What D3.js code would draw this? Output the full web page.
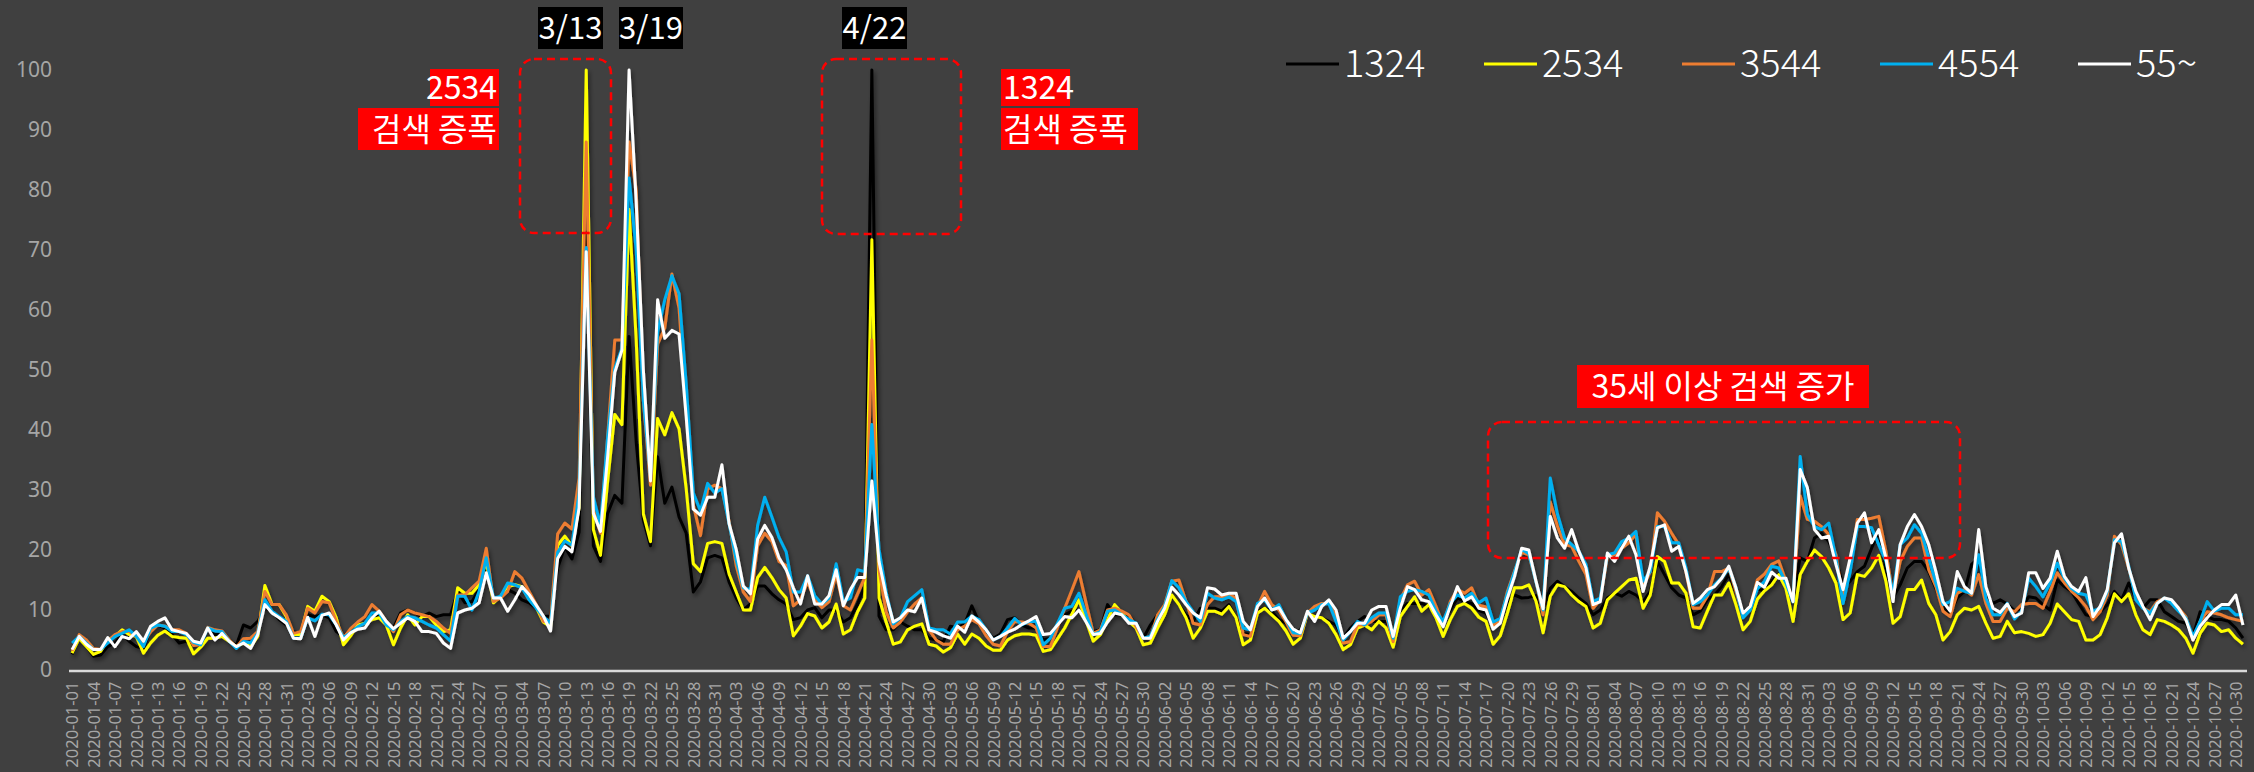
<!DOCTYPE html>
<html>
<head>
<meta charset="utf-8">
<script src="https://cdn.jsdelivr.net/npm/d3@7"></script>
<style>
  html, body { margin: 0; padding: 0; background: #404040; }
  svg { display: block; }
  text { font-family: "Noto Sans CJK KR", "Noto Sans", sans-serif; }
</style>
</head>
<body>
<svg id="chart" width="2254" height="772"></svg>

<script>
// daily categories, 2020-01-01 .. 2020-10-31
var startDate = new Date(2020, 0, 1);
var endDate = new Date(2020, 10, 1);
var days = d3.timeDay.range(startDate, endDate);

var seriesNames = ["1324", "2534", "3544", "4554", "55~"];
var seriesColors = ["#000000", "#ffff00", "#ed7d31", "#00b0f0", "#ffffff"];
var yTicks = [0, 10, 20, 30, 40, 50, 60, 70, 80, 90, 100];

var s1324 = [2.6,5.6,3.9,2.3,2.5,3.9,4.5,5.9,4.8,3.9,
3.6,6.7,7.5,7.0,5.9,4.5,4.8,4.2,4.2,7.0,
5.9,5.9,4.8,4.1,7.5,7.0,8.1,10.3,9.8,8.4,
7.5,6.4,6.1,9.2,8.9,9.2,8.7,6.4,5.6,6.8,
7.5,7.8,9.2,8.9,7.8,7.0,9.5,10.0,9.5,8.9,
9.5,8.9,9.2,9.2,13.1,11.2,11.4,13.4,16.7,12.0,
12.3,13.4,12.8,11.7,11.2,10.3,8.9,9.0,17.0,20.5,
18.5,23.0,73.0,20.7,18.1,26.1,29.1,27.8,55.6,38.0,
25.0,20.7,35.5,27.8,30.5,25.5,22.8,13.0,14.7,18.7,
19.1,18.7,14.7,12.0,10.0,11.0,14.0,14.0,12.7,11.7,
11.0,8.4,8.7,10.0,10.4,8.7,10.0,10.0,8.0,8.7,
11.0,14.0,100,9.0,6.7,6.7,8.0,7.3,6.7,6.7,
5.3,5.0,4.7,7.3,7.0,7.7,10.7,8.0,6.3,5.3,
6.0,8.4,8.7,7.5,7.0,7.0,5.0,5.3,7.2,9.2,
9.8,10.0,8.2,6.4,6.7,10.9,9.2,9.2,9.2,7.5,
5.3,7.5,9.2,10.9,12.5,10.9,9.2,8.1,10.3,10.3,
10.3,9.8,10.9,8.7,6.1,5.9,9.8,10.3,9.8,8.4,
7.8,6.5,6.6,9.5,8.9,8.7,8.1,7.5,5.3,7.0,
8.1,8.9,8.1,8.1,8.1,6.4,10.0,11.1,11.1,11.1,
10.6,9.5,8.1,10.0,12.0,11.4,11.1,9.9,9.5,7.1,
8.0,11.4,12.5,12.0,12.1,12.4,10.3,13.6,14.8,13.9,
13.1,12.0,11.1,9.2,10.0,12.0,12.8,12.3,13.1,12.5,
11.4,13.1,18.1,15.9,13.7,12.5,12.0,9.2,9.8,11.7,
12.5,13.9,15.9,13.1,9.8,10.3,13.5,13.2,14.8,16.0,
14.8,12.0,18.7,18.1,22.0,22.8,21.4,18.7,13.9,14.8,
16.4,17.3,20.3,23.1,17.0,12.0,14.2,17.0,18.1,18.1,
16.4,13.6,10.6,9.5,12.0,13.1,17.6,18.7,12.5,11.1,
11.7,11.0,9.9,10.3,12.2,12.0,10.9,10.0,15.0,13.9,
13.1,11.1,9.2,8.9,9.7,10.9,13.1,11.7,14.5,12.0,
10.3,11.7,11.7,9.7,8.9,8.1,7.8,5.6,9.7,8.9,
8.4,8.4,8.1,7.0,5.3];

var s2534 = [2.8,5.3,3.9,2.6,3.1,5.0,5.6,6.7,5.9,5.6,
2.8,4.5,5.8,6.5,5.6,5.4,5.3,2.7,3.8,5.3,
5.3,5.6,4.8,3.9,4.5,3.9,5.6,14.1,10.9,10.9,
8.9,5.9,5.9,10.6,9.8,12.3,11.4,8.7,4.2,5.7,
7.5,7.8,8.4,8.7,7.5,4.2,7.0,9.2,7.5,8.9,
8.9,7.5,6.4,6.7,13.7,12.8,12.8,14.2,18.1,11.2,
12.3,13.9,14.2,13.9,11.8,10.5,8.0,7.2,20.8,22.3,
20.7,27.0,100,23.4,19.1,31.5,42.6,40.9,76.8,55.0,
26.0,21.4,41.9,39.2,42.9,40.2,30.2,17.7,16.4,21.1,
21.4,21.1,16.0,13.0,10.0,10.0,15.4,17.1,15.4,13.4,
12.0,5.7,7.3,9.4,9.0,7.0,8.0,11.0,6.0,6.7,
9.7,12.0,71.7,12.0,8.0,4.3,4.7,6.7,7.3,7.7,
4.3,4.0,3.0,3.7,6.0,4.3,6.0,5.3,4.0,3.3,
3.3,5.0,5.7,6.0,6.0,5.8,3.1,3.4,5.2,7.0,
9.3,11.7,8.2,4.8,5.9,8.4,10.9,9.5,8.1,7.0,
4.2,4.5,7.0,9.2,12.5,10.9,8.7,5.3,7.0,9.8,
9.8,9.3,10.6,8.7,4.2,5.0,9.5,10.3,9.2,8.1,
6.5,4.3,5.3,9.5,8.9,8.7,7.8,5.9,3.4,4.2,
7.0,7.5,6.7,8.1,7.0,3.8,8.9,10.6,12.2,9.8,
10.9,8.7,5.6,8.4,10.6,11.1,10.3,8.8,8.1,4.3,
5.7,9.5,13.7,13.7,14.2,11.5,6.2,12.3,14.2,13.9,
12.5,11.4,10.6,7.0,7.8,11.7,12.8,13.9,15.0,15.3,
10.3,12.5,18.9,18.1,14.5,14.5,12.8,7.2,7.0,9.8,
12.5,12.5,14.5,10.9,6.7,8.1,11.8,13.2,14.2,15.9,
13.6,8.1,15.9,18.1,20.0,18.9,17.0,14.5,8.4,9.5,
15.9,15.6,17.0,19.1,14.8,7.8,8.9,13.4,13.4,15.0,
11.1,9.2,5.0,6.4,9.2,10.3,10.0,10.6,7.8,5.3,
5.6,8.1,6.2,6.4,6.1,5.6,5.9,7.8,11.0,9.7,
8.4,8.1,5.0,5.0,5.9,8.7,12.7,11.4,12.7,9.2,
6.7,5.9,8.4,8.1,7.5,6.7,5.3,2.8,6.1,7.8,
7.5,6.4,6.7,5.3,4.3];

var s3544 = [3.2,5.9,5.0,3.6,3.4,4.8,5.9,6.4,6.4,5.6,
4.5,6.4,7.5,7.3,6.7,6.7,6.1,4.1,4.2,7.1,
6.7,6.5,5.0,3.8,5.2,5.3,6.4,13.1,10.9,10.9,
9.2,6.1,6.4,10.3,9.5,11.4,11.2,8.1,5.4,6.9,
8.0,8.9,10.9,9.8,8.1,6.4,9.2,10.0,9.5,9.2,
8.9,8.1,7.0,6.1,12.5,12.5,13.7,14.8,20.3,11.4,
12.0,13.1,16.4,15.3,13.1,10.9,8.1,8.2,22.7,24.5,
23.5,32.0,88.0,26.8,22.8,38.9,55.0,55.0,88.0,80.0,
45.0,30.8,54.3,57.0,66.0,60.3,42.9,27.5,22.4,30.2,
30.8,30.2,24.8,17.4,13.0,11.4,20.7,22.8,21.4,18.1,
17.4,10.7,11.7,14.7,11.7,10.4,11.4,16.0,10.7,10.0,
12.7,15.4,55.0,16.7,9.7,7.0,8.0,9.7,11.0,12.0,
6.7,5.0,4.3,4.3,6.7,7.3,8.4,7.7,5.7,4.3,
4.0,6.4,8.1,8.0,7.8,7.0,3.9,3.9,7.1,10.3,
13.3,16.4,11.2,6.1,6.7,10.0,10.3,9.8,9.2,7.2,
5.3,5.3,9.2,10.9,14.8,15.0,11.4,7.8,7.5,10.9,
12.2,12.2,12.5,12.0,5.9,5.6,10.6,13.1,10.9,10.0,
8.0,5.8,5.7,9.5,10.6,11.1,11.1,8.9,4.5,4.7,
7.5,7.5,8.1,9.2,9.2,4.7,11.7,14.2,14.8,12.5,
13.4,10.6,7.5,11.4,13.4,12.8,13.7,10.8,10.5,7.4,
8.1,13.1,16.5,19.6,19.2,14.8,9.2,28.0,24.0,20.9,
20.6,18.1,15.9,10.3,11.7,18.9,19.2,20.3,21.2,22.6,
13.9,16.4,26.2,24.8,22.8,20.9,16.4,10.3,10.3,12.3,
16.4,16.4,17.0,13.1,9.2,10.6,15.0,16.0,17.6,18.2,
14.8,11.7,29.0,25.1,24.8,23.9,22.6,19.2,12.0,17.0,
25.1,25.1,25.3,25.6,19.8,12.3,18.1,20.6,22.0,22.0,
16.7,13.9,9.8,8.9,12.8,13.4,12.5,15.9,11.1,8.1,
8.1,10.3,9.7,10.9,11.1,11.1,10.3,13.1,16.2,14.5,
13.1,12.0,10.6,8.4,9.7,12.5,22.3,20.9,17.0,12.2,
10.3,9.7,11.4,12.0,11.4,10.3,8.9,5.0,8.1,9.7,
9.5,9.2,8.7,8.4,8.1];

var s4554 = [4.5,5.6,4.5,3.4,3.4,4.5,5.6,6.1,6.7,5.6,
3.9,7.0,7.5,7.3,6.4,6.4,5.9,4.6,4.2,7.0,
6.5,6.4,4.8,3.6,4.8,4.5,6.1,11.7,9.8,8.9,
8.1,5.3,5.3,8.7,8.2,9.3,9.2,7.5,5.4,6.2,
7.2,7.8,9.5,9.5,7.5,6.7,8.1,8.9,8.7,8.1,
7.5,7.0,5.9,4.8,12.3,12.3,10.0,13.1,18.7,12.0,
12.3,14.5,14.2,13.7,11.7,10.3,8.9,7.8,19.6,21.5,
20.8,29.5,70.4,28.8,24.1,38.9,50.3,53.6,82.0,70.0,
45.0,32.2,56.3,61.7,65.7,62.7,47.6,29.5,26.5,31.1,
29.5,30.2,24.4,18.4,13.7,13.4,24.1,28.8,25.5,22.1,
19.7,13.0,13.0,15.7,12.4,11.0,12.0,17.7,11.4,12.0,
16.7,16.4,40.9,20.1,13.0,7.7,8.7,11.4,12.4,13.4,
7.0,6.7,6.7,6.0,8.0,8.0,9.0,8.4,6.7,5.0,
5.6,7.0,8.6,7.5,8.1,8.1,4.2,5.3,7.8,10.3,
10.6,12.8,9.3,5.9,6.4,9.8,10.0,9.2,8.4,7.8,
5.3,5.6,8.4,10.6,14.9,13.7,11.4,9.7,8.1,12.8,
12.0,11.7,12.2,11.4,7.0,6.7,11.1,11.7,10.0,10.9,
8.4,6.2,6.1,9.5,10.0,10.9,11.1,8.1,5.0,6.4,
8.1,7.5,8.7,9.5,9.5,5.3,12.2,13.1,13.4,13.1,
12.5,9.8,8.1,11.1,12.5,12.0,12.8,11.2,12.0,8.0,
8.6,12.8,16.4,20.1,19.4,14.7,10.0,32.0,26.0,22.0,
20.9,19.8,17.6,11.4,12.0,19.2,19.5,21.4,22.0,23.1,
14.8,16.4,23.9,23.9,21.2,21.2,17.0,10.9,11.4,12.5,
14.2,15.3,17.0,13.7,8.7,10.0,13.5,14.8,17.3,17.0,
14.5,11.4,35.6,25.9,23.9,23.4,24.5,18.7,11.1,16.4,
23.9,23.9,23.7,20.9,18.1,12.8,20.9,22.0,24.2,22.8,
18.7,14.5,10.9,11.4,13.6,13.1,12.8,19.2,12.0,9.2,
9.2,11.1,8.5,9.8,15.3,13.9,12.2,14.5,17.8,15.3,
13.6,12.8,12.5,9.8,10.3,13.1,21.7,21.4,17.3,11.7,
10.3,9.5,11.1,12.0,11.1,9.8,8.7,5.6,8.1,11.4,
9.8,10.3,10.3,9.2,9.2];

var s55 = [3.4,5.6,4.3,3.4,3.4,5.4,3.9,5.6,5.2,6.4,
4.8,7.3,8.1,8.7,6.7,6.4,6.1,4.8,4.5,7.0,
5.0,6.1,4.8,3.9,4.5,3.6,5.9,10.9,9.5,8.7,
7.8,5.3,5.2,8.8,5.6,9.1,9.5,7.5,5.0,6.2,
6.8,7.0,8.7,9.8,8.1,6.9,7.8,8.7,8.1,6.4,
6.4,6.1,4.5,3.6,9.5,10.0,10.3,11.2,16.2,12.0,
12.0,9.8,11.7,13.9,12.6,10.8,9.0,6.5,18.6,20.6,
19.7,27.0,69.7,26.1,23.1,35.5,49.6,53.3,100,78.0,
50.0,31.5,61.7,55.3,56.6,56.0,42.2,26.8,25.8,28.8,
28.8,34.2,24.4,20.1,14.0,12.7,21.8,24.1,22.1,18.7,
16.7,13.7,11.0,15.7,11.0,11.0,12.4,16.7,10.7,13.4,
15.4,15.4,31.5,18.1,12.4,8.0,8.7,10.0,9.7,12.0,
6.7,6.3,5.7,5.3,7.3,6.3,9.0,8.0,6.7,5.0,
5.6,6.3,6.8,7.6,8.2,8.9,5.9,6.1,7.5,8.9,
8.7,10.0,8.0,5.9,6.1,8.0,9.5,9.2,7.8,7.8,
5.3,5.3,8.1,10.3,13.8,12.5,10.9,9.5,8.7,13.7,
13.5,12.5,12.8,12.8,8.1,6.7,10.6,12.0,10.0,10.4,
8.4,6.8,6.2,9.8,8.1,10.6,11.7,10.0,5.3,6.4,
7.8,7.8,10.0,10.6,10.6,5.6,10.3,13.9,13.4,11.7,
11.4,9.2,7.2,10.6,13.9,11.5,12.2,10.3,10.0,6.8,
7.8,12.0,15.6,20.3,20.0,14.8,10.2,25.6,22.0,20.3,
23.4,19.8,17.0,10.9,11.4,19.5,18.1,20.3,22.3,19.2,
13.1,17.3,23.7,24.2,19.8,20.6,16.4,11.1,12.0,13.4,
13.9,15.3,17.3,13.7,9.5,10.6,14.6,13.8,16.3,15.3,
15.3,11.4,33.4,30.4,23.4,22.0,22.3,17.6,13.4,18.7,
24.5,26.2,21.2,23.4,18.7,11.4,20.9,23.9,25.9,23.9,
20.9,16.4,11.4,9.8,16.4,13.9,12.8,23.4,13.9,10.3,
9.6,11.0,8.9,9.5,16.2,16.2,13.6,15.3,19.8,15.6,
13.9,13.1,15.4,8.9,10.6,13.4,21.2,22.7,17.0,13.1,
10.6,8.4,11.1,12.0,11.7,10.3,8.4,5.0,7.3,8.7,
10.0,10.9,10.9,12.5,7.5];

var allSeries = [s1324, s2534, s3544, s4554, s55];

var svg = d3.select("#chart");

var x = d3.scalePoint()
    .domain(d3.range(days.length))
    .range([68.5, 2246.5])
    .padding(0.5);

var y = d3.scaleLinear()
    .domain([0, 100])
    .range([670, 70]);

// soft shadow under the lines
var defs = svg.append("defs");
defs.append("filter")
    .attr("id", "shadow")
    .attr("x", "-5%").attr("y", "-5%")
    .attr("width", "110%").attr("height", "110%")
  .append("feDropShadow")
    .attr("dx", 2).attr("dy", 3)
    .attr("stdDeviation", 2)
    .attr("flood-color", "#000")
    .attr("flood-opacity", 0.45);

// y labels
var yAxis = d3.axisLeft(y).tickValues(yTicks).tickSize(0).tickPadding(0);
var gy = svg.append("g").attr("transform", "translate(52,0)").call(yAxis);
gy.select(".domain").remove();
gy.selectAll("text")
    .style("font-size", "21px")
    .style("font-family", "'Noto Sans', sans-serif")
    .attr("fill", "#a6a6a6");

// x axis, every third day
var fmt = d3.timeFormat("%Y-%m-%d");
var xAxis = d3.axisBottom(x)
    .tickValues(d3.range(0, days.length - 1, 3))
    .tickFormat(function (i) { return fmt(days[i]); })
    .tickSize(0)
    .tickSizeOuter(0);
var gx = svg.append("g").attr("transform", "translate(0,670.5)").call(xAxis);
gx.select(".domain").attr("stroke", "#d9d9d9").attr("stroke-width", 2.5);
gx.selectAll("text")
    .attr("transform", "rotate(-90)")
    .attr("x", -11)
    .attr("y", 0)
    .attr("dy", "0.35em")
    .style("text-anchor", "end")
    .style("font-size", "16.5px")
    .style("font-family", "'Noto Sans', sans-serif")
    .attr("fill", "#a6a6a6");

// lines
var line = d3.line()
    .x(function (d, i) { return x(i); })
    .y(function (d) { return y(d); });

svg.append("g")
    .attr("filter", "url(#shadow)")
  .selectAll("path.series")
    .data(allSeries)
  .enter()
    .append("path")
    .attr("class", "series")
    .attr("fill", "none")
    .attr("stroke", function (d, i) { return seriesColors[i]; })
    .attr("stroke-width", 3)
    .attr("stroke-linejoin", "round")
    .attr("d", line);

// legend
var legend = svg.append("g").selectAll("g")
    .data(seriesNames)
  .enter()
    .append("g")
    .attr("transform", function (d, i) { return "translate(" + (1286 + i * 198) + ",0)"; });
legend.append("line")
    .attr("x1", 0).attr("x2", 53)
    .attr("y1", 64).attr("y2", 64)
    .attr("stroke", function (d, i) { return seriesColors[i]; })
    .attr("stroke-width", 3);
legend.append("text")
    .attr("x", 58).attr("y", 77)
    .attr("fill", "#fff")
    .style("font-size", "38px")
    .style("font-weight", 300)
    .text(function (d) { return d; });

// annotations
function tag(x0, y0, w, h, label, bg, anchor, size) {
    svg.append("rect")
        .attr("x", x0).attr("y", y0)
        .attr("width", w).attr("height", h)
        .attr("fill", bg);
    var tx = anchor == "end" ? x0 + w - 2 : (anchor == "middle" ? x0 + w / 2 : x0 + 2);
    svg.append("text")
        .attr("x", tx)
        .attr("y", y0 + h / 2)
        .attr("dy", "0.36em")
        .attr("text-anchor", anchor)
        .attr("fill", "#fff")
        .style("font-size", size + "px")
        .text(label);
}

function dashBox(x0, y0, x1, y1) {
    svg.append("rect")
        .attr("x", x0).attr("y", y0)
        .attr("width", x1 - x0).attr("height", y1 - y0)
        .attr("rx", 14).attr("ry", 14)
        .attr("fill", "none")
        .attr("stroke", "#ff0000")
        .attr("stroke-width", 2.5)
        .attr("stroke-dasharray", "8,5");
}

dashBox(520, 59, 611, 233);
dashBox(822, 59, 961, 234);
dashBox(1488, 422, 1960, 558);

tag(538, 7, 65, 42, "3/13", "#000", "middle", 31);
tag(619, 7, 64, 42, "3/19", "#000", "middle", 31);
tag(842, 7, 65, 42, "4/22", "#000", "middle", 31);

tag(430, 69, 69, 37, "2534", "#ff0000", "end", 32);
tag(358, 108, 141, 42, "검색 증폭", "#ff0000", "end", 32);
tag(1001, 69, 69, 37, "1324", "#ff0000", "start", 32);
tag(1001, 108, 137, 42, "검색 증폭", "#ff0000", "start", 32);
tag(1577, 365, 292, 43, "35세 이상 검색 증가", "#ff0000", "middle", 32);
</script>
</body>
</html>
